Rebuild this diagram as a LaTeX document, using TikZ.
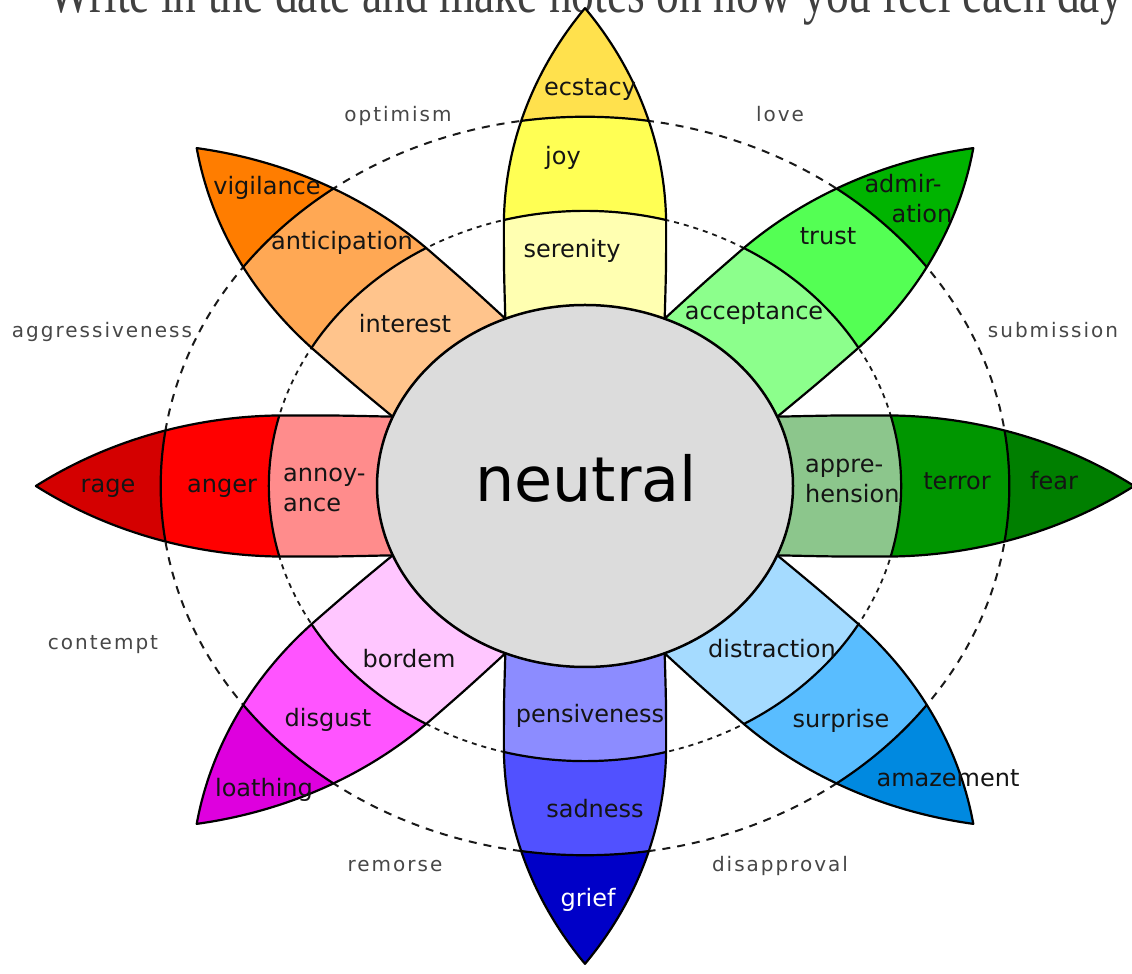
\documentclass[tikz,border=0pt]{standalone}
\usepackage{fontspec}
\setmainfont{DejaVu Sans}
\newfontfamily\dyadfont{DejaVu Sans}[LetterSpace=10]
\newfontfamily\headfont{Liberation Serif}
\definecolor{ecst}{HTML}{FFE14D}
\definecolor{joyc}{HTML}{FFFF54}
\definecolor{sere}{HTML}{FFFFB1}
\definecolor{admi}{HTML}{00B400}
\definecolor{trus}{HTML}{54FF54}
\definecolor{acce}{HTML}{8CFF8C}
\definecolor{fear}{HTML}{007F00}
\definecolor{terr}{HTML}{009600}
\definecolor{appr}{HTML}{8CC68C}
\definecolor{amaz}{HTML}{0089E0}
\definecolor{surp}{HTML}{59BDFF}
\definecolor{dist}{HTML}{A5DBFF}
\definecolor{grie}{HTML}{0000C8}
\definecolor{sadn}{HTML}{5151FF}
\definecolor{pens}{HTML}{8C8CFF}
\definecolor{loat}{HTML}{DE00DE}
\definecolor{disg}{HTML}{FF54FF}
\definecolor{bord}{HTML}{FFC6FF}
\definecolor{rage}{HTML}{D40000}
\definecolor{ange}{HTML}{FF0000}
\definecolor{anno}{HTML}{FF8C8C}
\definecolor{vigi}{HTML}{FF7D00}
\definecolor{anti}{HTML}{FFA854}
\definecolor{inte}{HTML}{FFC48C}
\definecolor{neut}{HTML}{DCDCDC}
\tikzset{
  petalline/.style={draw=black, line width=2.2pt, line join=round},
  bandline/.style={draw=black, line width=2.2pt},
  emo/.style={font=\fontsize{24}{26}\selectfont, text=black!92, inner sep=0pt, anchor=base},
  emow/.style={emo, anchor=base west},
  dyad/.style={font=\dyadfont\fontsize{20}{22}\selectfont, text=black!72, inner sep=0pt, anchor=base},
  outerdash/.style={draw=black!90, dash pattern=on 8pt off 7pt, line width=2pt},
  innerdash/.style={draw=black!90, dash pattern=on 5pt off 5pt, line width=1.8pt},
}
\newcommand{\petalp}[1]{\path[#1] (0.383,0.924) .. controls (0.39,1.2) .. (0.39,1.44)
   .. controls (0.39,1.871) and (0.2535,2.291) .. (0,2.64)
   .. controls (-0.2535,2.291) and (-0.39,1.871) .. (-0.39,1.44)
   .. controls (-0.39,1.2) .. (-0.383,0.924) -- (0,0) -- cycle;}
\newcommand{\petal}[4]{%
  \begin{scope}[rotate=#1]
    \begin{scope}
      \petalp{clip}
      \fill[#4] (0,0) circle[radius=3];
      \fill[#3] (0,0) circle[radius=2.04];
      \fill[#2] (0,0) circle[radius=1.52];
      \path[bandline] (0,0) circle[radius=2.04];
      \path[bandline] (0,0) circle[radius=1.52];
    \end{scope}
    \petalp{petalline}
  \end{scope}}
\begin{document}
\begin{tikzpicture}[x=1pt,y=1pt]
\clip (0,0) rectangle (1132,974);
\fill[white] (0,0) rectangle (1132,974);
\node[text=black!75, inner sep=0pt, anchor=base west] (head) at (48,961)
  {\scalebox{1}[1.3]{\headfont\fontsize{45.5}{50}\selectfont Write in the date and make notes on how you feel each day}};
\begin{scope}[shift={(585,488)}, xscale=208, yscale=181]
  \path[outerdash] (0,0) circle[radius=2.04];
  \path[innerdash] (0,0) circle[radius=1.52];
  \petal{0}{sere}{joyc}{ecst}
  \petal{45}{inte}{anti}{vigi}
  \petal{90}{anno}{ange}{rage}
  \petal{135}{bord}{disg}{loat}
  \petal{180}{pens}{sadn}{grie}
  \petal{225}{dist}{surp}{amaz}
  \petal{270}{appr}{terr}{fear}
  \petal{315}{acce}{trus}{admi}
  \path[fill=neut, draw=black, line width=2.5pt] (0,0) circle[radius=1];
\end{scope}
\node[font=\fontsize{62}{66}\selectfont, text=black, inner sep=0pt, anchor=base] (neutral) at (586,472) {neutral};
\node[emo] (ecstacy) at (590,878) {ecstacy};
\node[emo] (joy) at (563,809) {joy};
\node[emo] (serenity) at (572,716) {serenity};
\node[emo] (vigilance) at (267,779) {vigilance};
\node[emo] (anticipation) at (342,724) {anticipation};
\node[emo] (interest) at (405,641) {interest};
\node[emo] (admir) at (903,781) {admir-};
\node[emo] (ation) at (922,751) {ation};
\node[emo] (trust) at (828,729) {trust};
\node[emo] (acceptance) at (754,654) {acceptance};
\node[emo] (rage) at (108,481) {rage};
\node[emo] (anger) at (222,481) {anger};
\node[emow] (annoy) at (283,492) {annoy-};
\node[emow] (ance) at (283,462) {ance};
\node[emow] (appre) at (805,501) {appre-};
\node[emow] (hension) at (805,471) {hension};
\node[emo] (terror) at (957,484) {terror};
\node[emo] (fear) at (1054,484) {fear};
\node[emo] (bordem) at (409,306) {bordem};
\node[emo] (disgust) at (328,247) {disgust};
\node[emo] (loathing) at (264,177) {loathing};
\node[emo] (distraction) at (772,316) {distraction};
\node[emo] (surprise) at (841,246) {surprise};
\node[emo] (amazement) at (948,187) {amazement};
\node[emo] (pensiveness) at (590,251) {pensiveness};
\node[emo] (sadness) at (595,156) {sadness};
\node[emo, text=white] (grief) at (588,67) {grief};
\node[dyad] (optimism) at (398,852) {optimism};
\node[dyad] (love) at (780,852) {love};
\node[dyad] (aggressiveness) at (102,636) {aggressiveness};
\node[dyad] (submission) at (1053,636) {submission};
\node[dyad] (contempt) at (103,324) {contempt};
\node[dyad] (remorse) at (395,102) {remorse};
\node[dyad] (disapproval) at (780,102) {disapproval};
\end{tikzpicture}
\end{document}
